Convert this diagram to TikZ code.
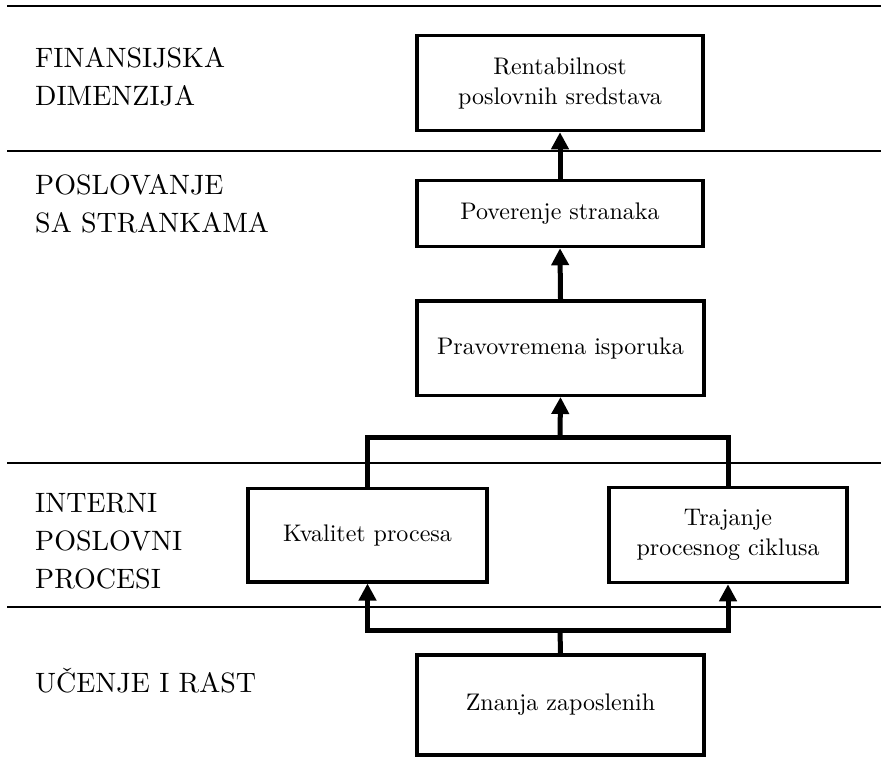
\documentclass[tikz,border=0pt]{standalone}
\usepackage{fontspec}
\setmainfont{lmroman10-regular.otf}
\usetikzlibrary{arrows.meta}
\begin{document}
\begin{tikzpicture}[x=1pt,y=-1pt,
  band/.style={line width=1.6pt},
  stage/.style={draw,line width=3.5pt,inner sep=0pt,align=center,
    font=\fontsize{24}{30}\selectfont},
  link/.style={line width=5pt},
  up/.style={link,-{Triangle[length=17pt,width=17pt]}},
  dim/.style={anchor=base west,inner sep=0pt,
    font=\fontsize{28}{38}\selectfont}]
\useasboundingbox (0,0) rectangle (884,772);

% perspective separators
\foreach \y in {6,151,463,607}
  \draw[band] (7,\y) -- (881,\y);

% perspective names (first baseline at the node position)
\node[dim] (dfin)  at (35,67)  {\begin{tabular}[t]{@{}l@{}}FINANSIJSKA\\DIMENZIJA\end{tabular}};
\node[dim] (dcust) at (35,194) {\begin{tabular}[t]{@{}l@{}}POSLOVANJE\\SA STRANKAMA\end{tabular}};
\node[dim] (dproc) at (35,512) {\begin{tabular}[t]{@{}l@{}}INTERNI\\POSLOVNI\\PROCESI\end{tabular}};
\node[dim] (dlrn)  at (35,692) {UČENJE I RAST};

% objectives
\node[stage,minimum width=286pt,minimum height=95pt]   (fin)  at (560,83)    {Rentabilnost\\poslovnih sredstava};
\node[stage,minimum width=286pt,minimum height=66pt]   (cust) at (560,213.5) {Poverenje stranaka};
\node[stage,minimum width=287pt,minimum height=94.5pt] (del)  at (560.5,348) {Pravovremena isporuka};
\node[stage,minimum width=239pt,minimum height=93.5pt] (qual) at (367.5,535) {Kvalitet procesa};
\node[stage,minimum width=238pt,minimum height=95pt]   (cyc)  at (728,535)   {Trajanje\\procesnog ciklusa};
\node[stage,minimum width=287pt,minimum height=100pt]  (know) at (560.5,705) {Znanja zaposlenih};

% cause-and-effect links
\draw[up] (cust.north) -- (fin.south);
\draw[up] (del.north) -- (cust.south);

\coordinate (fork) at (560,437);
\draw[link] (qual.north) |- (fork) -| (cyc.north);
\draw[up] (fork) -- (del.south);

\coordinate (bus) at (560,630);
\draw[link] (know.north) -- (bus);
\draw[up] (bus) -| (qual.south);
\draw[up] (bus) -| (cyc.south);
\end{tikzpicture}
\end{document}
